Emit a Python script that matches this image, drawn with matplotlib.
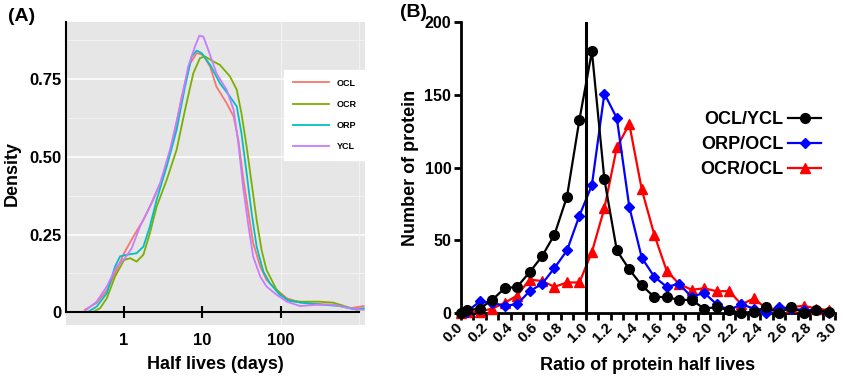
import numpy as np
import matplotlib
matplotlib.use("Agg")
import matplotlib.pyplot as plt

plt.rcParams['font.family'] = ['Liberation Sans', 'DejaVu Sans']
plt.rcParams['font.weight'] = 'bold'

# ---------------- Panel A data: density curves (x = log10 half life in days) ----------------
ocl_logx = [-0.50, -0.35, -0.22, -0.094, 0.0, 0.12, 0.247, 0.374, 0.50, 0.63, 0.736, 0.843, 0.928,
            1.01, 1.10, 1.18, 1.31, 1.40, 1.46, 1.52, 1.59, 1.65, 1.74, 1.82, 1.95, 2.08, 2.25,
            2.46, 2.67, 2.89, 3.06]
ocl_dens = [0.008, 0.03, 0.07, 0.136, 0.19, 0.244, 0.297, 0.362, 0.437, 0.555, 0.694, 0.80, 0.834,
            0.828, 0.79, 0.726, 0.673, 0.63, 0.555, 0.437, 0.319, 0.222, 0.147, 0.104, 0.072, 0.045,
            0.031, 0.027, 0.024, 0.013, 0.02]

ocr_logx = [-0.39, -0.306, -0.22, -0.115, 0.0, 0.077, 0.16, 0.247, 0.33, 0.417, 0.545, 0.672, 0.779,
            0.885, 0.97, 1.034, 1.14, 1.225, 1.353, 1.44, 1.50, 1.566, 1.63, 1.694, 1.757, 1.82,
            1.95, 2.08, 2.25, 2.5, 2.67, 2.84, 2.97, 3.06]
ocr_dens = [0.002, 0.013, 0.045, 0.115, 0.168, 0.174, 0.163, 0.185, 0.254, 0.34, 0.426, 0.523, 0.651,
            0.769, 0.818, 0.823, 0.807, 0.796, 0.759, 0.716, 0.64, 0.533, 0.415, 0.297, 0.20, 0.136,
            0.072, 0.04, 0.034, 0.034, 0.031, 0.018, 0.008, 0.01]

orp_logx = [-0.455, -0.35, -0.22, -0.115, -0.05, 0.034, 0.16, 0.247, 0.33, 0.417, 0.545, 0.672, 0.779,
            0.864, 0.928, 0.99, 1.10, 1.225, 1.353, 1.44, 1.50, 1.566, 1.63, 1.694, 1.78, 1.864,
            1.99, 2.12, 2.33, 2.54, 2.76, 2.93, 3.06]
orp_dens = [0.002, 0.018, 0.061, 0.147, 0.18, 0.185, 0.19, 0.211, 0.276, 0.362, 0.469, 0.587, 0.726,
            0.823, 0.842, 0.834, 0.796, 0.737, 0.694, 0.662, 0.576, 0.447, 0.319, 0.211, 0.131, 0.093,
            0.056, 0.036, 0.029, 0.024, 0.02, 0.01, 0.013]

ycl_logx = [-0.50, -0.35, -0.22, -0.094, 0.013, 0.098, 0.204, 0.33, 0.46, 0.587, 0.715, 0.82, 0.906,
            0.962, 1.013, 1.077, 1.18, 1.31, 1.40, 1.46, 1.52, 1.59, 1.65, 1.74, 1.82, 1.95, 2.08,
            2.25, 2.46, 2.67, 2.89, 3.06]
ycl_dens = [0.004, 0.034, 0.083, 0.147, 0.174, 0.206, 0.276, 0.34, 0.415, 0.523, 0.662, 0.791, 0.855,
            0.89, 0.887, 0.844, 0.769, 0.716, 0.651, 0.544, 0.405, 0.276, 0.179, 0.115, 0.083, 0.056,
            0.034, 0.02, 0.024, 0.024, 0.013, 0.008]

a_names = ["OCL", "OCR", "ORP", "YCL"]
a_colors = ["#F8766D", "#7CAE00", "#00BFC4", "#C77CFF"]
a_yticks = [0, 0.25, 0.50, 0.75]
a_yticklabels = ["0", "0.25", "0.50", "0.75"]
a_xticks = [1, 10, 100]
a_xticklabels = ["1", "10", "100"]

# ---------------- Panel B data: ratio histograms ----------------
ratio_x = [0.0, 0.05, 0.15, 0.25, 0.35, 0.45, 0.55, 0.65, 0.75, 0.85, 0.95, 1.05, 1.15, 1.25, 1.35,
           1.45, 1.55, 1.65, 1.75, 1.85, 1.95, 2.05, 2.15, 2.25, 2.35, 2.45, 2.55, 2.65, 2.75, 2.85, 2.95]
ocl_ycl = [0, 2, 3, 9, 17, 18, 28, 39, 54, 80, 133, 180, 92, 43, 30, 19, 11, 11, 9, 9, 3, 4, 2, 0, 1,
           4, 0, 4, 0, 2, 1]
orp_ocl = [0, 1, 8, 7, 5, 6, 15, 20, 31, 43, 67, 88, 151, 134, 73, 38, 25, 18, 20, 11, 14, 6, 2, 6, 3,
           0, 4, 3, 2, 2, 0]
ocr_ocl = [0, 1, 1, 3, 7, 12, 23, 22, 18, 21, 21, 42, 72, 114, 130, 85, 54, 29, 20, 16, 17, 15, 15, 6,
           10, 3, 3, 4, 5, 3, 2]
b_xticks = [0.0, 0.2, 0.4, 0.6, 0.8, 1.0, 1.2, 1.4, 1.6, 1.8, 2.0, 2.2, 2.4, 2.6, 2.8, 3.0]
b_yticks = [0, 50, 100, 150, 200]

fig = plt.figure(figsize=(8.45, 3.86), dpi=100)

# ================= Panel A =================
axA = fig.add_axes([65.7 / 845, 1 - 325 / 386, (365 - 65.7) / 845, (325 - 22) / 386])
axA.set_facecolor("#E6E6E6")
axA.set_xscale("log")
axA.set_xlim(10 ** -0.745, 10 ** 3.078)
axA.set_ylim(-0.041, 0.934)

for yv in [0.125, 0.375, 0.625, 0.875]:
    axA.axhline(yv, color="#F2F2F2", lw=0.7, zorder=0)
for yv in [0.25, 0.5, 0.75]:
    axA.axhline(yv, color="white", lw=1.1, zorder=0)
for xv in [100, 1000]:
    axA.axvline(xv, color="#F2F2F2", lw=0.8, zorder=0)

for lx, dens, name, col in zip([ocl_logx, ocr_logx, orp_logx, ycl_logx],
                               [ocl_dens, ocr_dens, orp_dens, ycl_dens], a_names, a_colors):
    axA.plot(10 ** np.array(lx), dens, color=col, lw=1.3, label=name, zorder=3)

for s in ["top", "right"]:
    axA.spines[s].set_visible(False)
axA.spines["bottom"].set_position(("data", 0))
axA.spines["bottom"].set_bounds(10 ** -0.745, 1000)
axA.spines["bottom"].set_linewidth(1.5)
axA.spines["left"].set_bounds(0, 0.934)
axA.spines["left"].set_linewidth(1.5)
axA.spines["bottom"].set_zorder(4)

axA.set_xticks(a_xticks)
axA.set_xticklabels(a_xticklabels)
axA.xaxis.set_minor_locator(matplotlib.ticker.NullLocator())
axA.tick_params(axis="x", direction="inout", length=8, width=1.5, pad=11, labelsize=12)
axA.set_yticks(a_yticks)
axA.set_yticklabels(a_yticklabels)
axA.tick_params(axis="y", length=0, pad=3, labelsize=12)
for lab in axA.get_xticklabels() + axA.get_yticklabels():
    lab.set_fontweight("bold")
axA.set_xlabel("Half lives (days)", fontsize=13, fontweight="bold", labelpad=6)
axA.set_ylabel("Density", fontsize=13, fontweight="bold", labelpad=6)

legA = axA.legend(loc="upper left", bbox_to_anchor=((279 - 65.7) / 299.3, 1 - (65 - 22) / 303),
                  fontsize=6.5, handlelength=4.0, labelspacing=1.35, handletextpad=0.9,
                  borderpad=1.0, frameon=True, fancybox=False)
legA.get_frame().set_facecolor("white")
legA.get_frame().set_edgecolor("white")
legA.get_frame().set_alpha(1)
for t in legA.get_texts():
    t.set_fontweight("bold")

fig.text(8 / 845, 1 - 8 / 386, "(A)", fontsize=14, fontweight="bold", ha="left", va="top")

# ================= Panel B =================
axB = fig.add_axes([461 / 845, 1 - 313 / 386, (835 - 461) / 845, (313 - 22.3) / 386])
axB.set_xlim(0, 3.0)
axB.set_ylim(0, 200)
axB.plot(ratio_x, ocl_ycl, color="black", marker="o", ms=7, lw=1.6, label="OCL/YCL", clip_on=False, zorder=5)
axB.plot(ratio_x, orp_ocl, color="#0000FF", marker="D", ms=5.5, lw=1.6, label="ORP/OCL", clip_on=False, zorder=4)
axB.plot(ratio_x, ocr_ocl, color="#FF0000", marker="^", ms=7, lw=1.6, label="OCR/OCL", clip_on=False, zorder=3)
axB.axvline(1.0, color="black", lw=2.2, zorder=6)

for s in ["top", "right"]:
    axB.spines[s].set_visible(False)
for s in ["bottom", "left"]:
    axB.spines[s].set_linewidth(2.0)
axB.set_xticks(b_xticks)
axB.set_xticklabels([f"{v:.1f}" for v in b_xticks], rotation=45, ha="right", va="center",
                    rotation_mode="anchor")
axB.xaxis.set_minor_locator(matplotlib.ticker.MultipleLocator(0.1))
axB.tick_params(axis="x", which="both", direction="out", length=5, width=2.0, labelsize=11, pad=4)
axB.set_yticks(b_yticks)
axB.tick_params(axis="y", direction="out", length=5, width=2.0, labelsize=11.5, pad=2)
for lab in axB.get_xticklabels() + axB.get_yticklabels():
    lab.set_fontweight("bold")
axB.set_xlabel("Ratio of protein half lives", fontsize=13, fontweight="bold", labelpad=8)
axB.set_ylabel("Number of protein", fontsize=13, fontweight="bold", labelpad=4)

legB = axB.legend(loc="upper right", bbox_to_anchor=(830 / 845, 1 - 102 / 386),
                  bbox_transform=fig.transFigure, fontsize=13, frameon=False, markerfirst=False,
                  handlelength=1.8, labelspacing=0.45, handletextpad=0.3, borderpad=0)
for t in legB.get_texts():
    t.set_fontweight("bold")

fig.text(400 / 845, 1 - 4 / 386, "(B)", fontsize=14, fontweight="bold", ha="left", va="top")

fig.savefig("out.png", dpi=100)
